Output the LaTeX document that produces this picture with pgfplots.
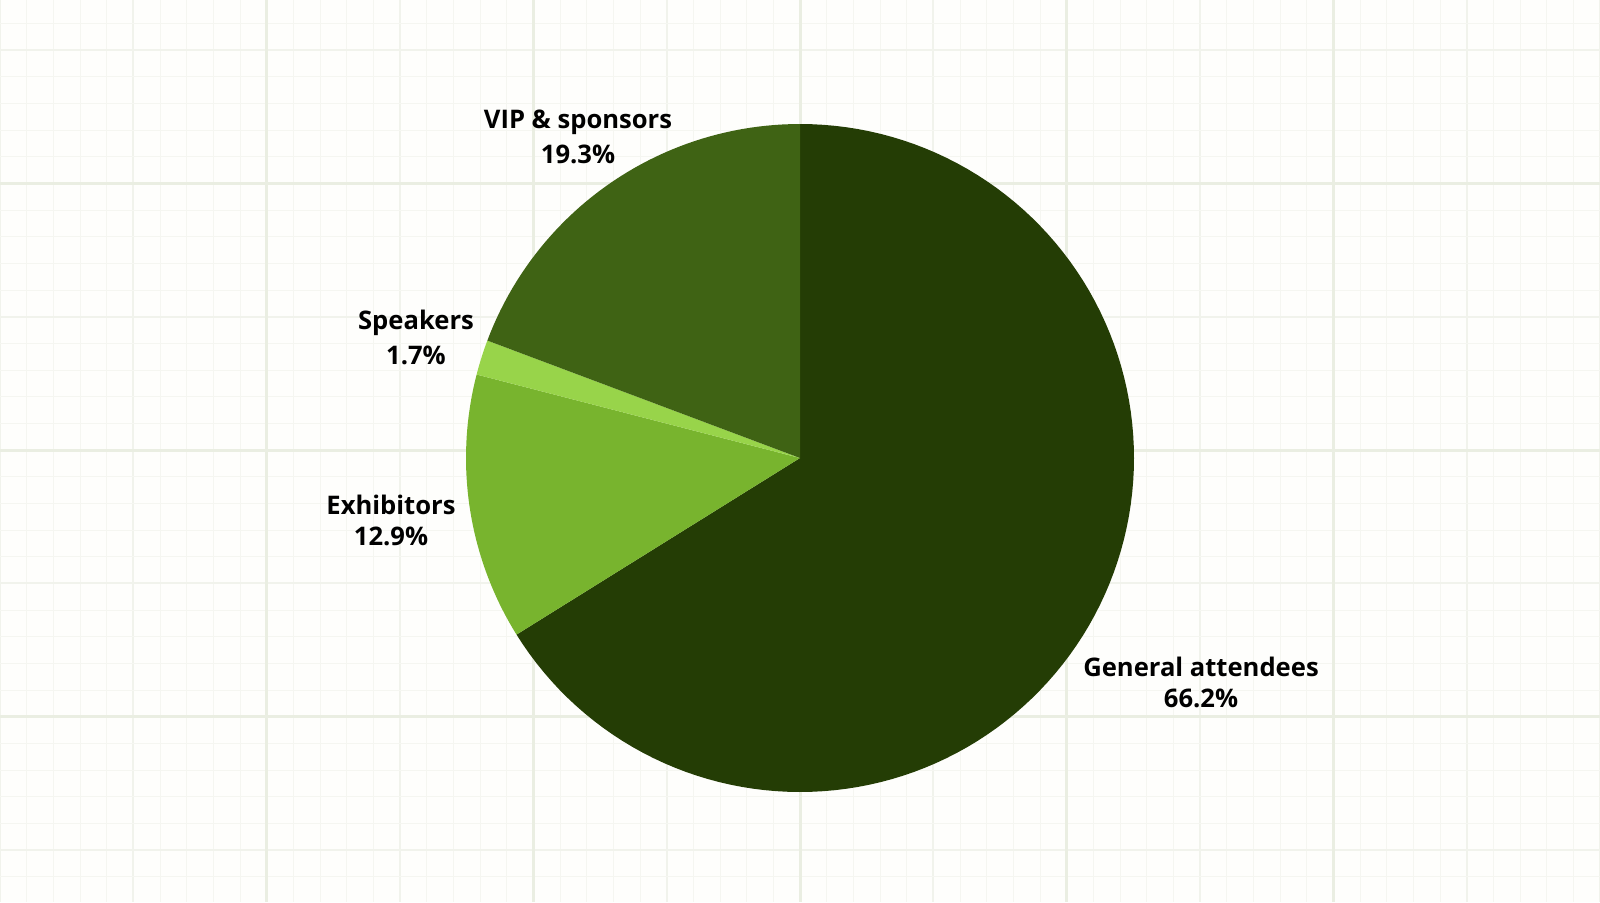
\documentclass[border=0pt]{standalone}
\usepackage{pgfplots}
\pgfplotsset{compat=1.18}
\usepackage{pgfplotstable}
\usepackage{fontspec}
\setmainfont{Open Sans}
\definecolor{cGen}{HTML}{243D05}
\definecolor{cExh}{HTML}{78B42E}
\definecolor{cSpk}{HTML}{98D44A}
\definecolor{cVip}{HTML}{3F6314}
\definecolor{bgcol}{HTML}{FEFEFC}
\definecolor{gridminor}{HTML}{F5F6F1}
\definecolor{gridmid}{HTML}{F1F3EC}
\definecolor{gridmajor}{HTML}{EAEEE2}

\pgfplotstableread{
value
66.2
12.9
1.7
19.3
}\piedata

\begin{document}%
\begin{tikzpicture}
\pgfplotstablegetelem{0}{value}\of\piedata \let\vA\pgfplotsretval
\pgfplotstablegetelem{1}{value}\of\piedata \let\vB\pgfplotsretval
\pgfplotstablegetelem{2}{value}\of\piedata \let\vC\pgfplotsretval
\pgfplotstablegetelem{3}{value}\of\piedata \let\vD\pgfplotsretval
\pgfmathsetmacro\tot{\vA+\vB+\vC+\vD}
\pgfmathsetmacro\aA{90}
\pgfmathsetmacro\aB{\aA-\vA/\tot*360}
\pgfmathsetmacro\aC{\aB-\vB/\tot*360}
\pgfmathsetmacro\aD{\aC-\vC/\tot*360}
\pgfmathsetmacro\aE{\aD-\vD/\tot*360}
\def\cx{800}\def\cy{444}\def\rr{334}
\begin{axis}[name=ax,
  scale only axis, width=800pt, height=451pt,
  xmin=0, xmax=1600, ymin=0, ymax=902,
  axis line style={draw=none},
  axis background/.style={fill=bgcol},
  major tick length=0pt, minor tick length=0pt,
  xticklabels={}, yticklabels={},
  tick label style={overlay},
  xtick={0,133.333,400,666.667,933.333,1200,1466.667,1600},
  ytick={52,318.667,585.333,852},
  minor xtick={0,26.6667,...,1600},
  minor ytick={-1.3333,25.3333,...,902},
  extra x ticks={266.667,533.333,800,1066.667,1333.333},
  extra y ticks={185.333,452,718.667},
  extra x tick labels={}, extra y tick labels={},
  extra tick style={grid=major, major grid style={gridmajor, line width=1.5pt}},
  grid=both,
  major grid style={gridmid, line width=0.9pt},
  minor grid style={gridminor, line width=0.5pt},
  clip=false,
]
\addplot[fill=cGen, draw=none, domain=\aB:\aA, samples=120]
  ({\cx+\rr*cos(x)},{\cy+\rr*sin(x)}) -- (axis cs:\cx,\cy) -- cycle;
\addplot[fill=cExh, draw=none, domain=\aC:\aB, samples=40]
  ({\cx+\rr*cos(x)},{\cy+\rr*sin(x)}) -- (axis cs:\cx,\cy) -- cycle;
\addplot[fill=cSpk, draw=none, domain=\aD:\aC, samples=10]
  ({\cx+\rr*cos(x)},{\cy+\rr*sin(x)}) -- (axis cs:\cx,\cy) -- cycle;
\addplot[fill=cVip, draw=none, domain=\aE:\aD, samples=50]
  ({\cx+\rr*cos(x)},{\cy+\rr*sin(x)}) -- (axis cs:\cx,\cy) -- cycle;

\begin{scope}[every node/.style={align=center, text=black, font=\bfseries\fontsize{12.8}{17.5}\selectfont}]
\node at (axis cs:578,765) {VIP \& sponsors\\19.3\%};
\node at (axis cs:416,565) {Speakers\\1.7\%};
\node[font=\bfseries\fontsize{12.8}{15.5}\selectfont] at (axis cs:391,381.5) {Exhibitors\\12.9\%};
\node[font=\bfseries\fontsize{12.8}{15.5}\selectfont] at (axis cs:1201,219.5) {General attendees\\66.2\%};
\end{scope}
\end{axis}
\pgfresetboundingbox
\useasboundingbox (ax.south west) rectangle (ax.north east);
\end{tikzpicture}%
\end{document}
